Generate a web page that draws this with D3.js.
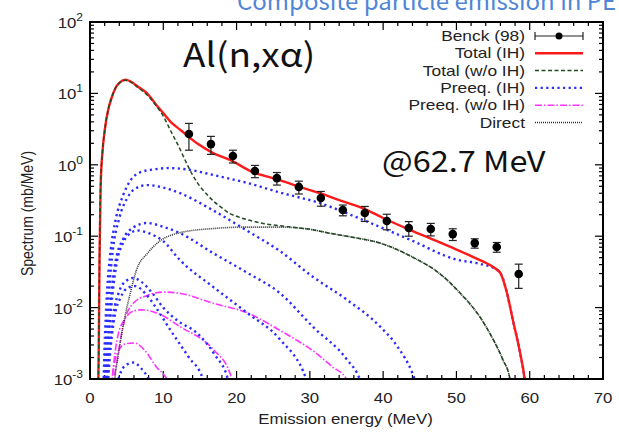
<!DOCTYPE html>
<html>
<head>
<meta charset="utf-8">
<script src="https://cdn.jsdelivr.net/npm/d3@7"></script>
<style>
  body { margin: 0; background: #fff; }
  svg { display: block; font-family: "Liberation Sans", Arial, sans-serif; }
  .jp { font-family: "Noto Sans CJK JP", "Noto Sans", sans-serif; }
</style>
</head>
<body>
<svg id="chart" width="619" height="433"></svg>
<script>
// measured alpha spectrum, Benck (98)
const benckE = [13.5, 16.5, 19.5, 22.5, 25.5, 28.5, 31.5, 34.5, 37.5, 40.5, 43.5, 46.5, 49.5, 52.5, 55.5, 58.5];
const benckY = [2.70, 1.95, 1.33, 0.82, 0.65, 0.49, 0.343, 0.233, 0.211, 0.163, 0.130, 0.126, 0.107, 0.080, 0.0706, 0.0296];
const benckErr = [1.1, 0.55, 0.27, 0.16, 0.13, 0.10, 0.08, 0.04, 0.05, 0.04, 0.03, 0.025, 0.02, 0.012, 0.011, 0.011];

// calculated spectra, [energy MeV, mb/MeV]
const totalIH = [[1.1,0.0005],[1.2,0.003],[1.3,0.05],[1.45,0.5],[1.7,1.5],[2.0,3],[2.5,6],[3.0,9],[3.5,12],[4.0,14],[4.8,15.5],[5.5,14.8],[6.5,12.5],[7.8,10],[9,7],[10,5.3],[11,4],[12.3,3.1],[14.6,2.0],[16.8,1.46],[19.1,1.17],[22.2,0.79],[25.5,0.63],[28.6,0.49],[31.4,0.40],[34,0.32],[37.2,0.248],[40,0.18],[43.7,0.122],[47,0.088],[50,0.065],[52.3,0.051],[55,0.037],[56,0.0305],[56.9,0.016],[57.7,0.0067],[58.7,0.0023],[59.3,0.001],[59.6,0.0005]];
const totalNoIH = [[1.1,0.0005],[1.2,0.003],[1.3,0.05],[1.45,0.5],[1.7,1.5],[2.0,3],[2.5,6],[3.0,9],[3.5,12],[4.0,14],[4.8,15.3],[5.5,14.5],[6.5,12.2],[7.8,9.5],[9,6.8],[10,4.8],[11,3.0],[12,1.9],[13,1.15],[14,0.72],[15,0.5],[16,0.38],[17,0.3],[18,0.25],[19,0.21],[20,0.19],[22,0.165],[24,0.148],[26,0.14],[28,0.132],[30,0.125],[32.7,0.11],[36,0.096],[39.6,0.08],[44,0.051],[47.7,0.030],[50.5,0.016],[53.2,0.0074],[55,0.0036],[56.3,0.0019],[57.3,0.001],[57.6,0.0005]];
const direct = [[3.2,0.0005],[3.4,0.001],[3.8,0.002],[4.5,0.0054],[5.5,0.016],[6.4,0.035],[7.8,0.057],[9.5,0.085],[12.3,0.112],[16.8,0.128],[21.4,0.134],[25.9,0.134],[30,0.125],[32.7,0.11],[36,0.096],[39.6,0.08],[44,0.051],[47.7,0.030],[50.5,0.016],[53.2,0.0074],[55,0.0036],[56.3,0.0019],[57.3,0.001],[57.6,0.0005]];

// pre-equilibrium components with IH
const preeqIH1 = [[1.8,0.0005],[2.0,0.003],[2.3,0.015],[2.8,0.06],[3.5,0.17],[4.5,0.37],[5.5,0.6],[6.8,0.78],[8.6,0.86],[10.9,0.90],[13.6,0.85],[16.8,0.72],[21.4,0.56],[25.9,0.41],[31.4,0.29],[37.2,0.17],[43.7,0.089],[50,0.047],[53.2,0.041],[55.5,0.034],[56.2,0.028],[56.9,0.016],[57.7,0.0067],[58.7,0.0023],[59.3,0.001],[59.6,0.0005]];
const preeqIH2 = [[1.9,0.0005],[2.1,0.002],[2.5,0.012],[3.0,0.05],[4.0,0.18],[5.0,0.33],[6.0,0.45],[7.8,0.52],[10,0.48],[12.3,0.40],[16.8,0.23],[21.4,0.12],[25.9,0.062],[30.4,0.027],[35,0.013],[39.6,0.0054],[42,0.0028],[44,0.0012],[45,0.0006]];
const preeqIH3 = [[2.0,0.0005],[2.3,0.002],[2.8,0.012],[3.5,0.045],[4.5,0.09],[5.8,0.13],[7.8,0.153],[10,0.135],[12.3,0.11],[16.8,0.058],[21.4,0.031],[25.9,0.016],[30.4,0.0054],[35,0.0019],[36.8,0.001],[37.5,0.0006]];
const preeqIH4 = [[2.1,0.0005],[2.4,0.002],[2.9,0.01],[3.6,0.04],[4.5,0.08],[5.5,0.11],[6.5,0.12],[8,0.11],[10,0.085],[12.3,0.046],[16.8,0.0195],[21.4,0.0085],[25.9,0.0036],[29.5,0.001],[30.2,0.0006]];
const preeqIH5 = [[2.2,0.0005],[2.6,0.002],[3.2,0.008],[4,0.017],[5,0.024],[5.9,0.026],[7,0.023],[8.5,0.016],[10,0.010],[12,0.0065],[14.6,0.0044],[17,0.0022],[18.8,0.001],[19.3,0.0006]];
const preeqIH6 = [[2.3,0.0005],[2.7,0.002],[3.3,0.007],[4.2,0.014],[5.2,0.019],[6.2,0.02],[7.5,0.016],[9,0.010],[11,0.0048],[13.5,0.002],[15.4,0.001],[16,0.0006]];
const preeqIH7 = [[3.2,0.0005],[4,0.0011],[5,0.0016],[6,0.0017],[7,0.0014],[8,0.001],[8.8,0.0006]];

// pre-equilibrium components without IH
const preeqNoIH1 = [[3.0,0.0005],[3.3,0.001],[3.7,0.0018],[4.5,0.0054],[5.9,0.0115],[7.8,0.0148],[10,0.0165],[12,0.016],[16.8,0.0115],[21.4,0.0085],[25.9,0.0048],[28,0.0036],[30.4,0.0025],[33,0.0015],[35,0.001],[35.5,0.0008]];
const preeqNoIH2 = [[2.8,0.0005],[3.2,0.0015],[3.8,0.004],[4.8,0.007],[6,0.009],[7,0.0093],[9,0.0085],[12.3,0.0054],[16.8,0.0026],[19.1,0.0012],[19.6,0.0008]];
const preeqNoIH3 = [[2.7,0.0005],[3.1,0.0012],[3.8,0.0024],[4.8,0.0031],[6,0.0032],[7.5,0.0025],[9,0.0015],[10.5,0.001],[11,0.0008]];

const xTicks = [0, 10, 20, 30, 40, 50, 60, 70];
const yExponents = [-3, -2, -1, 0, 1, 2];
const legendLabels = ['Benck (98)', 'Total (IH)', 'Total (w/o IH)', 'Preeq. (IH)', 'Preeq. (w/o IH)', 'Direct'];

const svg = d3.select('#chart');
const width = 619, height = 433;
const margin = { top: 22, right: 16, bottom: 54, left: 90 };
const innerWidth = width - margin.left - margin.right;
const innerHeight = height - margin.top - margin.bottom;
const stretch = 1.2;   // the plot's lettering is drawn a bit wide

const xScale = d3.scaleLinear().domain([0, 70]).range([0, innerWidth]);
const yScale = d3.scaleLog().domain([1e-3, 1e2]).range([innerHeight, 0]);

// text placed at (x, y) and widened horizontally
const wideText = (parent, x, y, str, anchor, sx) => parent.append('text')
  .attr('transform', `translate(${x},${y}) scale(${sx || stretch},1)`)
  .attr('text-anchor', anchor || 'start')
  .text(str);

// header line, cut by the top edge
svg.append('text')
  .attr('class', 'jp')
  .attr('x', 237).attr('y', 10)
  .attr('font-size', 24)
  .attr('fill', '#4f86d6')
  .text('Composite particle emission in PE');

const g = svg.append('g').attr('transform', `translate(${margin.left},${margin.top})`);

g.append('clipPath').attr('id', 'plot-clip')
  .append('rect').attr('width', innerWidth).attr('height', innerHeight);

// minor/major ticks, drawn inside on all four sides
const xMinor = d3.range(0, 71, 2);
const yMinor = [];
yExponents.slice(0, -1).forEach(e => { for (let k = 2; k < 10; k++) yMinor.push(k * Math.pow(10, e)); });
const yMajor = yExponents.map(e => Math.pow(10, e));

const tickG = g.append('g').attr('stroke', '#000').attr('stroke-width', 1.2);
xMinor.forEach(v => {
  const len = v % 10 === 0 ? 8 : 4;
  const x = xScale(v);
  tickG.append('line').attr('x1', x).attr('x2', x).attr('y1', innerHeight).attr('y2', innerHeight - len);
  tickG.append('line').attr('x1', x).attr('x2', x).attr('y1', 0).attr('y2', len);
});
yMinor.concat(yMajor).forEach(v => {
  const len = yMajor.includes(v) ? 8 : 4;
  const y = yScale(v);
  tickG.append('line').attr('x1', 0).attr('x2', len).attr('y1', y).attr('y2', y);
  tickG.append('line').attr('x1', innerWidth).attr('x2', innerWidth - len).attr('y1', y).attr('y2', y);
});

// tick labels
const xLab = g.append('g').attr('fill', '#222').attr('font-size', 14);
xTicks.forEach(v => wideText(xLab, xScale(v), innerHeight + 24, String(v), 'middle'));

const yLab = g.append('g').attr('fill', '#222').attr('font-size', 14);
yExponents.forEach(e => {
  const t = yLab.append('text')
    .attr('transform', `translate(-7,${yScale(Math.pow(10, e)) + 6}) scale(${stretch},1)`)
    .attr('text-anchor', 'end');
  t.append('tspan').text('10');
  t.append('tspan').attr('dy', -7).attr('font-size', 10).text(String(e));
});

// axis titles
wideText(g, innerWidth / 2 - 1, innerHeight + 45, 'Emission energy (MeV)', 'middle')
  .attr('font-size', 14).attr('fill', '#222');
g.append('text')
  .attr('transform', `translate(-57,${innerHeight / 2 + 13}) rotate(-90) scale(1,${stretch})`)
  .attr('text-anchor', 'middle').attr('font-size', 14).attr('fill', '#222')
  .text('Spectrum (mb/MeV)');

// curves
const lineGenerator = d3.line()
  .x(d => xScale(d[0]))
  .y(d => yScale(d[1]))
  .curve(d3.curveMonotoneX);

const plot = g.append('g').attr('clip-path', 'url(#plot-clip)');

const styles = {
  noIH: { stroke: '#ff33ff', width: 1.6, dash: '7,2,1.5,2' },
  ih: { stroke: '#2b2bff', width: 2.4, dash: '2.2,3.4' },
  direct: { stroke: '#333', width: 1.6, dash: '1,1' },
  totalNoIH: { stroke: '#1f4a24', width: 1.5, dash: '4,2.5' },
  total: { stroke: '#ff1a1a', width: 2.4, dash: null }
};

const drawCurve = (data, s) => {
  plot.append('path')
    .attr('d', lineGenerator(data))
    .attr('fill', 'none')
    .attr('stroke', s.stroke)
    .attr('stroke-width', s.width)
    .attr('stroke-dasharray', s.dash);
};

[preeqNoIH1, preeqNoIH2, preeqNoIH3].forEach(d => drawCurve(d, styles.noIH));
[preeqIH7, preeqIH6, preeqIH5, preeqIH4, preeqIH3, preeqIH2, preeqIH1].forEach(d => drawCurve(d, styles.ih));
drawCurve(direct, styles.direct);
drawCurve(totalIH, styles.total);
drawCurve(totalNoIH, styles.totalNoIH);

// data points with error bars
const pts = plot.append('g').attr('stroke', '#222').attr('stroke-width', 1.2);
benckE.forEach((e, i) => {
  const x = xScale(e);
  const y0 = yScale(benckY[i] - benckErr[i]);
  const y1 = yScale(benckY[i] + benckErr[i]);
  pts.append('line').attr('x1', x).attr('x2', x).attr('y1', y0).attr('y2', y1);
  pts.append('line').attr('x1', x - 4).attr('x2', x + 4).attr('y1', y0).attr('y2', y0);
  pts.append('line').attr('x1', x - 4).attr('x2', x + 4).attr('y1', y1).attr('y2', y1);
  pts.append('circle').attr('cx', x).attr('cy', yScale(benckY[i])).attr('r', 4.3).attr('fill', '#000').attr('stroke', 'none');
});

// frame
g.append('rect')
  .attr('width', innerWidth).attr('height', innerHeight)
  .attr('fill', 'none').attr('stroke', '#000').attr('stroke-width', 2);

// legend
const legend = g.append('g').attr('font-size', 14).attr('fill', '#222');
const legendStyles = [null, styles.total, styles.totalNoIH, styles.ih, styles.noIH, styles.direct];
legendLabels.forEach((label, i) => {
  const y = 14 + i * 17.3;
  wideText(legend, 435, y + 5, label, 'end', 1.24);
  const x0 = 445, x1 = 493;
  if (i === 0) {
    const lg = legend.append('g').attr('stroke', '#222').attr('stroke-width', 1.2);
    lg.append('line').attr('x1', x0).attr('x2', x1).attr('y1', y).attr('y2', y);
    lg.append('line').attr('x1', x0).attr('x2', x0).attr('y1', y - 4).attr('y2', y + 4);
    lg.append('line').attr('x1', x1).attr('x2', x1).attr('y1', y - 4).attr('y2', y + 4);
    lg.append('circle').attr('cx', (x0 + x1) / 2).attr('cy', y).attr('r', 3.5).attr('fill', '#000').attr('stroke', 'none');
  } else {
    const s = legendStyles[i];
    legend.append('line')
      .attr('x1', x0).attr('x2', x1).attr('y1', y).attr('y2', y)
      .attr('stroke', s.stroke).attr('stroke-width', s.width).attr('stroke-dasharray', s.dash);
  }
});

// reaction and incident energy
wideText(svg, 183, 67, 'Al(n,xα)', 'start', 1.12)
  .attr('class', 'jp').attr('font-size', 33).attr('fill', '#111');
wideText(svg, 382, 172, '@62.7 MeV', 'start', 1.12)
  .attr('class', 'jp').attr('font-size', 29).attr('fill', '#111');
</script>
</body>
</html>
